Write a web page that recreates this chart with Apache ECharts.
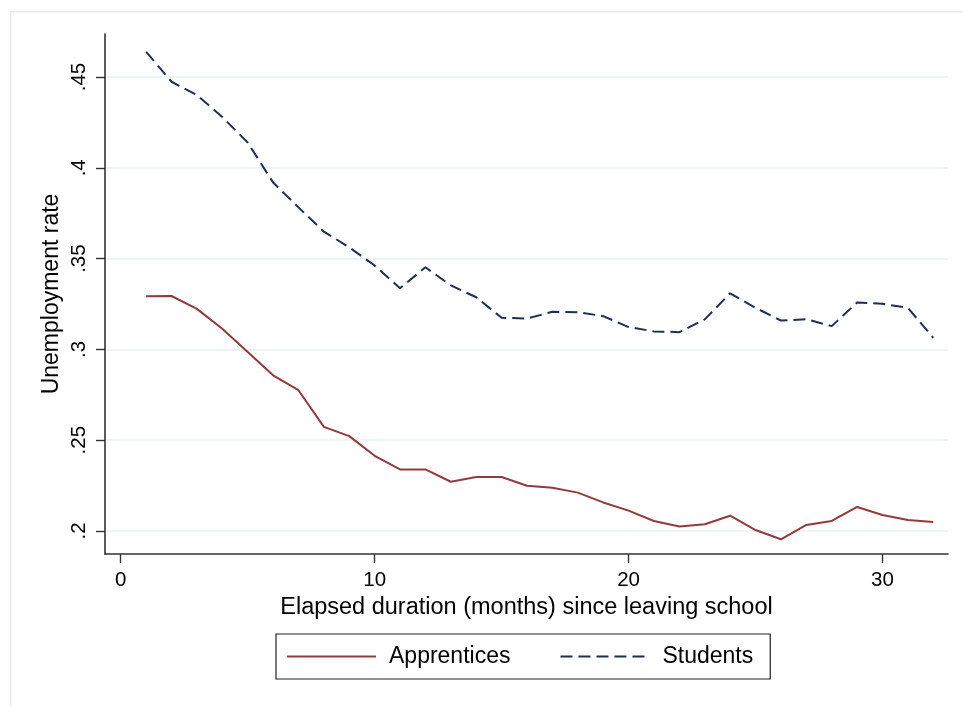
<!DOCTYPE html>
<html>
<head>
<meta charset="utf-8">
<script src="https://cdn.jsdelivr.net/npm/echarts@6/dist/echarts.min.js"></script>
<style>
html,body{margin:0;padding:0;background:#fff;}
#chart{width:963px;height:706px;}
</style>
</head>
<body>
<div id="chart"></div>
<script>
// Data
const months = [1,2,3,4,5,6,7,8,9,10,11,12,13,14,15,16,17,18,19,20,21,22,23,24,25,26,27,28,29,30,31,32];
const apprentices = [0.3292,0.3294,0.3223,0.3114,0.2985,0.2857,0.2775,0.2573,0.2522,0.2414,0.2339,0.2339,0.2271,0.2297,0.2297,0.2249,0.2238,0.2211,0.2157,0.2112,0.2055,0.2024,0.2037,0.2084,0.2005,0.1954,0.2033,0.2055,0.2132,0.2088,0.2060,0.2049];
const students = [0.4639,0.4474,0.4401,0.4280,0.4139,0.3919,0.3782,0.3648,0.3562,0.3462,0.3337,0.3452,0.3352,0.3287,0.3174,0.3170,0.3207,0.3205,0.3183,0.3123,0.3099,0.3095,0.3165,0.3309,0.3229,0.3159,0.3166,0.3128,0.3258,0.3251,0.3229,0.3064];
const xTicks = [0,10,20,30];
const yTicks = [0.2,0.25,0.3,0.35,0.4,0.45];
const seriesNames = ['Apprentices','Students'];
const xTitle = 'Elapsed duration (months) since leaving school';
const yTitle = 'Unemployment rate';

const FONT = '"Liberation Sans", Arial, Helvetica, sans-serif';
const chart = echarts.init(document.getElementById('chart'), null, {renderer:'canvas'});
const fmtY = v => {
  const s = (Math.round(v*100)/100).toString();
  return s.replace(/^0\./, '.');
};
chart.setOption({
  animation:false,
  backgroundColor:'#ffffff',
  graphic:[{
    type:'rect', left:10, top:11, silent:true, z:-10,
    shape:{width:1000, height:760},
    style:{fill:'#ffffff', stroke:'#ececec', lineWidth:1.5}
  }],
  grid:{left:105, right:15, top:34, bottom:152, containLabel:false},
  legend:{
    left:276, top:634,
    orient:'horizontal',
    data:seriesNames,
    itemWidth:89, itemHeight:14, itemGap:49,
    padding:[11,17,11,10],
    borderColor:'#222', borderWidth:1.2,
    itemStyle:{opacity:0},
    textStyle:{fontFamily:FONT, fontSize:23, color:'#000', padding:[0,0,0,8]}
  },
  xAxis:{
    type:'value', min:-0.62, max:32.58,
    name:xTitle, nameLocation:'middle', nameGap:42,
    nameTextStyle:{fontFamily:FONT, fontSize:23.5, color:'#000'},
    axisLine:{show:true, onZero:false, lineStyle:{color:'#333', width:1.6}},
    axisTick:{show:true, length:9, lineStyle:{color:'#333', width:1.4}, customValues:xTicks},
    axisLabel:{fontFamily:FONT, fontSize:20.5, color:'#000', margin:16, customValues:xTicks},
    splitLine:{show:false}
  },
  yAxis:{
    type:'value', min:0.1873, max:0.4737,
    name:yTitle, nameLocation:'middle', nameGap:42, nameRotate:90, nameMoveOverlap:false,
    nameTextStyle:{fontFamily:FONT, fontSize:23, color:'#000'},
    axisLine:{show:true, onZero:false, lineStyle:{color:'#333', width:1.6}},
    axisTick:{show:true, length:9, lineStyle:{color:'#333', width:1.4}, customValues:yTicks},
    axisLabel:{fontFamily:FONT, fontSize:20.5, color:'#000', margin:15, rotate:90, customValues:yTicks, formatter:fmtY},
    splitLine:{show:true, lineStyle:{color:'#e9f0f2', width:1.6}}
  },
  series:[
    {name:seriesNames[0], type:'line', data:months.map((m,i)=>[m,apprentices[i]]),
     symbol:'none', lineStyle:{color:'#933a3e', width:2}, itemStyle:{color:'#933a3e'}},
    {name:seriesNames[1], type:'line', data:months.map((m,i)=>[m,students[i]]),
     symbol:'none', lineStyle:{color:'#1e2f56', width:2, type:[12,6]}, itemStyle:{color:'#1e2f56'}}
  ]
});
</script>
</body>
</html>
